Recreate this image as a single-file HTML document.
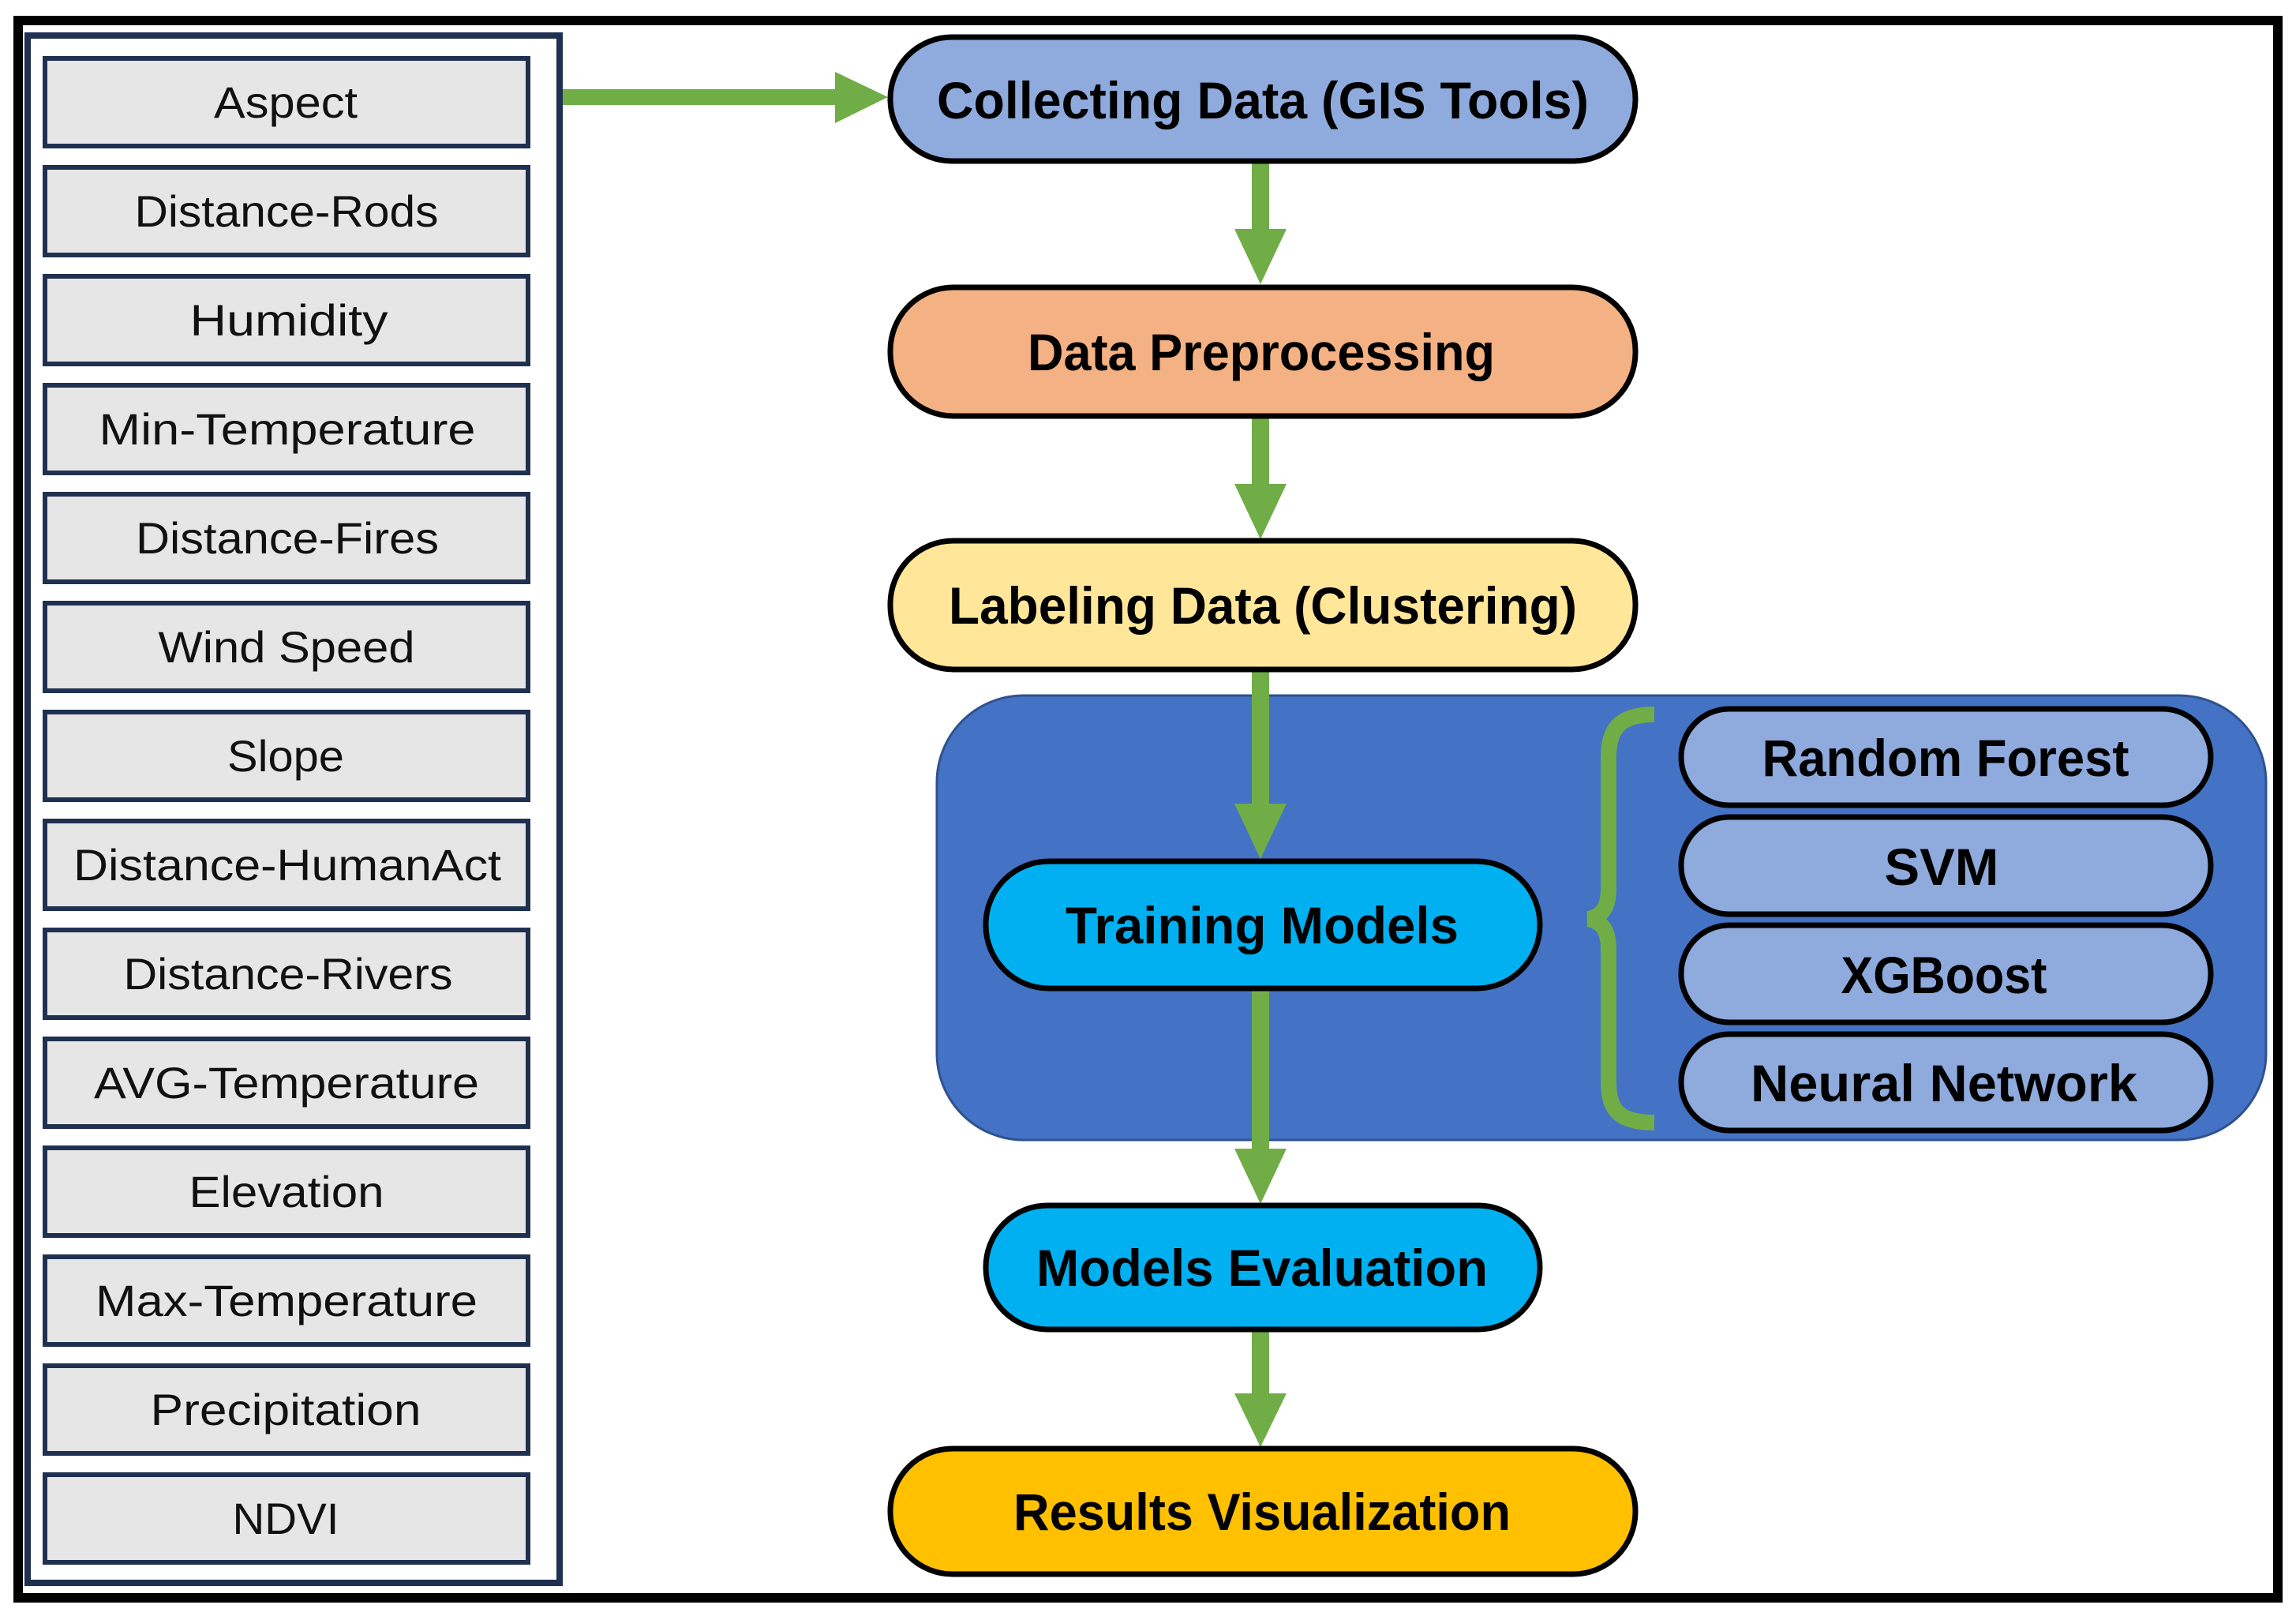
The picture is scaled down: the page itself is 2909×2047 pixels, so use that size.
<!DOCTYPE html>
<html><head><meta charset="utf-8"><style>html,body{margin:0;padding:0;background:#fff}svg{display:block}</style></head>
<body>
<svg width="2909" height="2047" viewBox="0 0 2909 2047" xmlns="http://www.w3.org/2000/svg">
<rect x="0" y="0" width="2909" height="2047" fill="#fff"/>
<rect x="23" y="26" width="2863" height="1998" fill="none" stroke="#000" stroke-width="12"/>
<rect x="35" y="45" width="674" height="1960" fill="#fff" stroke="#1f3050" stroke-width="8"/>
<g font-family="Liberation Sans, sans-serif" font-size="56" fill="#111" text-anchor="middle">
<g stroke="#1f3050" stroke-width="6" fill="#e7e6e6">
<rect x="57" y="74" width="612" height="111"/>
<rect x="57" y="212" width="612" height="111"/>
<rect x="57" y="350" width="612" height="111"/>
<rect x="57" y="488" width="612" height="111"/>
<rect x="57" y="626" width="612" height="111"/>
<rect x="57" y="764" width="612" height="111"/>
<rect x="57" y="902" width="612" height="111"/>
<rect x="57" y="1040" width="612" height="111"/>
<rect x="57" y="1178" width="612" height="111"/>
<rect x="57" y="1316" width="612" height="111"/>
<rect x="57" y="1454" width="612" height="111"/>
<rect x="57" y="1592" width="612" height="111"/>
<rect x="57" y="1730" width="612" height="111"/>
<rect x="57" y="1868" width="612" height="111"/>
</g>
<text x="362" y="149" textLength="182" lengthAdjust="spacingAndGlyphs">Aspect</text>
<text x="363" y="287" textLength="385" lengthAdjust="spacingAndGlyphs">Distance-Rods</text>
<text x="366" y="425" textLength="251" lengthAdjust="spacingAndGlyphs">Humidity</text>
<text x="364" y="563" textLength="477" lengthAdjust="spacingAndGlyphs">Min-Temperature</text>
<text x="364" y="701" textLength="384" lengthAdjust="spacingAndGlyphs">Distance-Fires</text>
<text x="363" y="839" textLength="325" lengthAdjust="spacingAndGlyphs">Wind Speed</text>
<text x="362" y="977" textLength="148" lengthAdjust="spacingAndGlyphs">Slope</text>
<text x="364" y="1115" textLength="542" lengthAdjust="spacingAndGlyphs">Distance-HumanAct</text>
<text x="365" y="1253" textLength="417" lengthAdjust="spacingAndGlyphs">Distance-Rivers</text>
<text x="363" y="1391" textLength="488" lengthAdjust="spacingAndGlyphs">AVG-Temperature</text>
<text x="363" y="1529" textLength="247" lengthAdjust="spacingAndGlyphs">Elevation</text>
<text x="363" y="1667" textLength="484" lengthAdjust="spacingAndGlyphs">Max-Temperature</text>
<text x="362" y="1805" textLength="343" lengthAdjust="spacingAndGlyphs">Precipitation</text>
<text x="362" y="1943" textLength="135" lengthAdjust="spacingAndGlyphs">NDVI</text>
</g>
<rect x="713" y="113" width="350" height="20" fill="#70ad47"/>
<polygon points="1058,91 1125,123 1058,156" fill="#70ad47"/>
<rect x="1187" y="881" width="1684" height="563" rx="110" fill="#4472c4" stroke="#2f528f" stroke-width="3"/>
<g fill="#70ad47">
<rect x="1586" y="204" width="22" height="100"/><polygon points="1564,290 1630,290 1597,360"/>
<rect x="1586" y="527" width="22" height="100"/><polygon points="1564,613 1630,613 1597,683"/>
<rect x="1586" y="848" width="22" height="180"/><polygon points="1564,1018 1630,1018 1597,1088"/>
<rect x="1586" y="1252" width="22" height="220"/><polygon points="1564,1455 1630,1455 1597,1525"/>
<rect x="1586" y="1684" width="22" height="100"/><polygon points="1564,1765 1630,1765 1597,1833"/>
</g>
<path d="M2096,905 C2050,905 2038,925 2038,960 L2038,1125 C2038,1150 2030,1160 2013,1164 C2030,1168 2038,1178 2038,1203 L2038,1370 C2038,1405 2050,1422 2096,1422" fill="none" stroke="#70ad47" stroke-width="20"/>
<g stroke="#000" stroke-width="7">
<rect x="1128" y="47" width="944" height="157" rx="78" fill="#8faadc"/>
<rect x="1128" y="364" width="944" height="163" rx="80" fill="#f4b183"/>
<rect x="1128" y="685" width="944" height="163" rx="80" fill="#ffe699"/>
<rect x="1249" y="1091" width="702" height="161" rx="80" fill="#00b0f0"/>
<rect x="1249" y="1527" width="702" height="157" rx="78" fill="#00b0f0"/>
<rect x="1128" y="1835" width="944" height="159" rx="79" fill="#ffc000"/>
<rect x="2130" y="898" width="671" height="122" rx="61" fill="#8faadc"/>
<rect x="2130" y="1035" width="671" height="123" rx="61" fill="#8faadc"/>
<rect x="2130" y="1172" width="671" height="123" rx="61" fill="#8faadc"/>
<rect x="2130" y="1310" width="671" height="122" rx="61" fill="#8faadc"/>
</g>
<g font-family="Liberation Sans, sans-serif" font-weight="bold" font-size="66" fill="#000" text-anchor="middle">
<text x="1600" y="150" textLength="826" lengthAdjust="spacingAndGlyphs">Collecting  Data (GIS Tools)</text>
<text x="1598" y="469" textLength="592" lengthAdjust="spacingAndGlyphs">Data Preprocessing</text>
<text x="1600" y="790" textLength="796" lengthAdjust="spacingAndGlyphs">Labeling Data (Clustering)</text>
<text x="1599" y="1195" textLength="498" lengthAdjust="spacingAndGlyphs">Training Models</text>
<text x="1599" y="1629" textLength="572" lengthAdjust="spacingAndGlyphs">Models Evaluation</text>
<text x="1599" y="1938" textLength="630" lengthAdjust="spacingAndGlyphs">Results Visualization</text>
<text x="2465" y="983" textLength="465" lengthAdjust="spacingAndGlyphs">Random Forest</text>
<text x="2460" y="1121" textLength="145" lengthAdjust="spacingAndGlyphs">SVM</text>
<text x="2463" y="1258" textLength="261" lengthAdjust="spacingAndGlyphs">XGBoost</text>
<text x="2463" y="1395" textLength="490" lengthAdjust="spacingAndGlyphs">Neural Network</text>
</g>
</svg>
</body></html>
